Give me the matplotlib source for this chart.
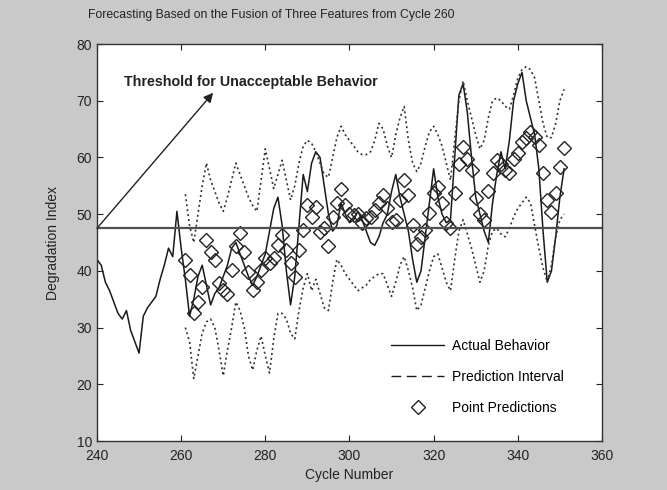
import numpy as np
import matplotlib
matplotlib.use("Agg")
import matplotlib.pyplot as plt
from matplotlib.lines import Line2D

plt.rcParams['font.family'] = ['Liberation Sans', 'DejaVu Sans']

# ---- data ----
actual_start = 240
actual = [42, 41, 38, 36.5, 34.5, 32.5, 31.5, 33, 29.5, 27.5,
          25.5, 32, 33.5, 34.5, 35.5, 38.5, 41, 44, 42.5, 50.5,
          44, 38.5, 32, 35, 39, 41, 37.5, 34, 36, 37,
          39, 41, 44, 45, 43, 41, 39, 37.5, 39, 41,
          43, 47, 51, 53, 48, 40, 34, 39, 48, 57,
          54, 59, 61, 60, 55, 50, 47, 48, 52, 50,
          48.5, 49, 50.5, 49, 47, 45, 44.5, 46, 48.5, 50,
          54, 57, 53, 50, 47, 42, 38, 40, 46, 52,
          58, 53, 50, 48.5, 49, 60, 71, 73, 68, 60,
          53, 50, 47, 45, 52, 57, 61, 58, 63, 70,
          73, 75, 70, 67, 64, 58, 47, 38, 40, 46,
          53, 58]

pred_start = 261
upper = [53.5, 48, 45, 50, 55, 59, 56, 54, 52, 50.5,
         53, 56, 59, 57, 55, 53, 51.5, 50.5, 56, 61.5,
         58, 54.5, 57, 59.5, 56, 52.5, 55, 59, 62, 63,
         62.5, 61, 59, 57, 56.5, 60, 63.5, 65.5, 64, 63,
         62, 61, 60.5, 60.5, 61, 63, 66, 65, 62, 60,
         64, 67, 69, 63, 59, 57.5, 59, 62, 64.5, 65.5,
         64, 62, 59, 56, 63, 70, 73.5, 70, 67, 64,
         61.5, 63, 67, 70, 70.5, 70, 69, 68.5, 71, 74,
         75.5, 76, 75.5, 74, 70, 66, 63.5, 63.5, 66, 70,
         72]

lower = [30, 27.5, 21, 25, 29, 31, 31.5, 30, 26, 21.5,
         26, 30, 34.5, 33, 30, 25, 22.5, 26, 28.5, 25,
         22, 28, 32.5, 32.5, 31.5, 29, 28, 33, 37, 39.5,
         36.5, 38.5, 36, 33.5, 33, 38, 42, 41, 39.5, 38.5,
         37.5, 36.5, 37, 37.5, 38.5, 39, 39.5, 39.5, 37.5, 35.5,
         38, 41, 42.5, 40, 37, 33, 34, 37, 40, 42.5,
         43, 40.5, 38, 36.5, 42, 47, 49, 46.5, 44, 41,
         38, 40, 44.5, 47, 47.5, 46.5, 46, 47.5, 49.5, 51,
         52, 53, 52, 48, 44, 40.5, 38, 41, 46, 49,
         50]

points = [41.9, 39.2, 32.5, 34.5, 37.2, 45.4, 43.4, 41.9, 37.9, 36.6,
          36.0, 40.1, 44.3, 46.6, 43.4, 39.8, 36.6, 38.1, 40.1, 42.2,
          41.3, 42.2, 44.5, 46.3, 43.7, 41.3, 39.0, 43.7, 47.2, 51.6,
          49.5, 51.3, 46.9, 47.5, 44.3, 49.5, 51.9, 54.5, 51.6, 50.1,
          49.8, 50.1, 48.4, 49.3, 49.5, 50.7, 51.9, 53.4, 51.0, 48.7,
          49.0, 52.5, 56.0, 53.4, 48.1, 44.8, 46.0, 47.2, 50.2, 53.7,
          54.8, 51.9, 48.4, 47.5, 53.7, 58.8, 61.8, 59.8, 57.8, 52.8,
          50.1, 49.0, 54.0, 57.2, 59.5, 58.9, 57.8, 57.2, 59.8, 60.7,
          62.8, 63.4, 64.5, 63.6, 62.2, 57.2, 52.5, 50.4, 53.7, 58.3,
          61.6]

threshold = 47.5
x_ticks = [240, 260, 280, 300, 320, 340, 360]
y_ticks = [10, 20, 30, 40, 50, 60, 70, 80]
title = "Forecasting Based on the Fusion of Three Features from Cycle 260"
annot_text = "Threshold for Unacceptable Behavior"
annot_arrow_start = (240, 47.5)
annot_arrow_end = (267.6, 71.4)
annot_text_pos = (246.5, 73.3)

# ---- figure ----
x_act = np.arange(actual_start, actual_start + len(actual))
x_pred = np.arange(pred_start, pred_start + len(upper))
x_pts = np.arange(pred_start, pred_start + len(points))

fig = plt.figure(figsize=(6.67, 4.90), dpi=100, facecolor='#c9c9c9')
ax = fig.add_axes([0.1454, 0.100, 0.7571, 0.8102])
ax.set_facecolor('white')

ax.plot(x_act, actual, color='#1a1a1a', lw=1.1)
ax.plot(x_pred, upper, color='#333333', lw=1.2, linestyle=(0, (1.2, 1.8)))
ax.plot(x_pred, lower, color='#333333', lw=1.2, linestyle=(0, (1.2, 1.8)))
ax.plot(x_pts, points, linestyle='none', marker='D', markersize=7,
        markerfacecolor='none', markeredgecolor='#222222', markeredgewidth=1.0)
ax.axhline(threshold, color='#505050', lw=1.6)

ax.annotate('', xy=annot_arrow_end, xytext=annot_arrow_start,
            arrowprops=dict(arrowstyle='-|>', color='#222222', lw=1.0,
                            mutation_scale=14, shrinkA=0, shrinkB=0))
ax.text(annot_text_pos[0], annot_text_pos[1], annot_text, fontsize=10.3,
        fontweight='bold', color='#222222', va='center', ha='left')

ax.set_xlim(240, 360)
ax.set_ylim(10, 80)
ax.set_xticks(x_ticks)
ax.set_yticks(y_ticks)
ax.tick_params(direction='in', top=True, right=True, length=4,
               labelsize=10, colors='#222222', width=0.8)
ax.tick_params(axis='x', pad=6)
for s in ax.spines.values():
    s.set_color('#333333')
    s.set_linewidth(1.0)

fig.text(88 / 667, 1 - 15 / 490, title, fontsize=8.8, color='#222222',
         ha='left', va='center')
ax.set_xlabel("Cycle Number", fontsize=10, color='#222222', labelpad=3)
ax.set_ylabel("Degradation Index", fontsize=10, color='#222222', labelpad=12)

handles = [
    Line2D([], [], color='#1a1a1a', lw=1.0),
    Line2D([], [], color='#1a1a1a', lw=1.0, linestyle=(0, (7, 4))),
    Line2D([], [], linestyle='none', marker='D', markersize=7,
           markerfacecolor='none', markeredgecolor='#222222'),
]
labels = ["Actual Behavior", "Prediction Interval", "Point Predictions"]
leg = ax.legend(handles, labels, loc='lower right', frameon=False,
                fontsize=10, handlelength=3.8, labelspacing=1.2,
                bbox_to_anchor=(0.95, 0.035), handletextpad=0.6)

fig.savefig('out.png', dpi=100, facecolor=fig.get_facecolor())
